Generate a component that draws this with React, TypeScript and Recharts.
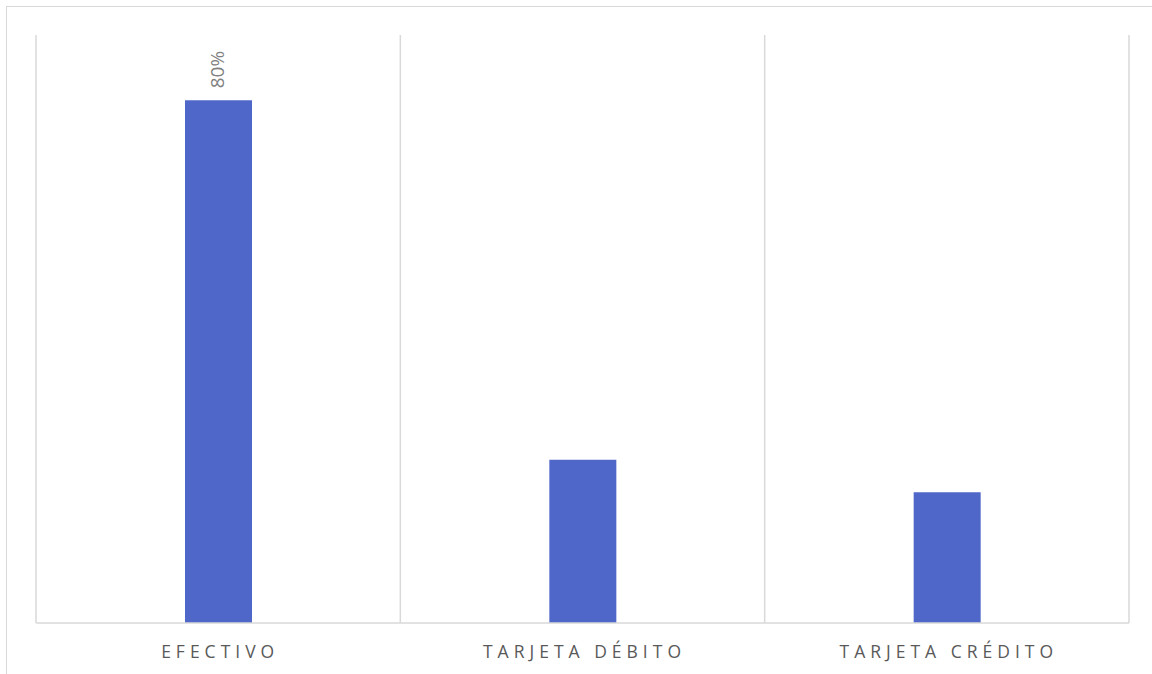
import React from 'react';
import { BarChart, Bar, XAxis, YAxis, CartesianGrid, LabelList } from 'recharts';

const categories = ['EFECTIVO', 'TARJETA DÉBITO', 'TARJETA CRÉDITO'];
const shares = [80, 25, 20];
const shownLabels = ['80%', '', ''];
const gridBounds = [0, 1, 2, 3];

const data = categories.map((name, i) => ({ name, value: shares[i], label: shownLabels[i] }));

const FONT = '"Open Sans", "Noto Sans", sans-serif';

const CategoryTick = (props: any) => {
  const { x, y, payload } = props;
  return (
    <text
      x={x + 2}
      y={y + 22}
      textAnchor="middle"
      dominantBaseline="middle"
      fill="#595959"
      fontFamily={FONT}
      fontSize={17.5}
      letterSpacing={5}
    >
      {payload.value}
    </text>
  );
};

const RotatedLabel = (props: any) => {
  const { x, y, width, value } = props;
  if (!value) return null;
  const cx = x + width / 2;
  const ty = y - 12;
  return (
    <text
      x={cx}
      y={ty}
      transform={`rotate(-90 ${cx} ${ty})`}
      textAnchor="start"
      dominantBaseline="middle"
      fill="#808080"
      fontFamily={FONT}
      fontSize={19}
    >
      {value}
    </text>
  );
};

// category boundaries, spaced by the plot width the chart computed
const boundaryLines = ({ offset }: any) =>
  gridBounds.map((b) => offset.left + (b * offset.width) / categories.length);

export default function App() {
  return (
    <div style={{ position: 'absolute', left: 0, top: 0, width: 1152, height: 674, background: '#fff', overflow: 'hidden' }}>
      <div
        style={{
          position: 'absolute',
          left: 6,
          top: 6,
          width: 1160,
          height: 700,
          border: '1.5px solid #d9d9d9',
          boxSizing: 'border-box',
        }}
      />
      <div style={{ position: 'absolute', left: 0, top: 0 }}>
        <BarChart
          width={1152}
          height={674}
          data={data}
          margin={{ top: 35, right: 23, left: 36, bottom: 0 }}
        >
          <CartesianGrid
            horizontal={false}
            verticalCoordinatesGenerator={boundaryLines}
            stroke="#d9d9d9"
            strokeWidth={1.5}
          />
          <XAxis
            dataKey="name"
            height={51}
            tickLine={false}
            axisLine={{ stroke: '#d9d9d9', strokeWidth: 1.5 }}
            tick={<CategoryTick />}
            interval={0}
          />
          <YAxis domain={[0, 90]} hide />
          <Bar dataKey="value" fill="#4e67c8" barSize={67} isAnimationActive={false}>
            <LabelList dataKey="label" content={<RotatedLabel />} />
          </Bar>
        </BarChart>
      </div>
    </div>
  );
}
